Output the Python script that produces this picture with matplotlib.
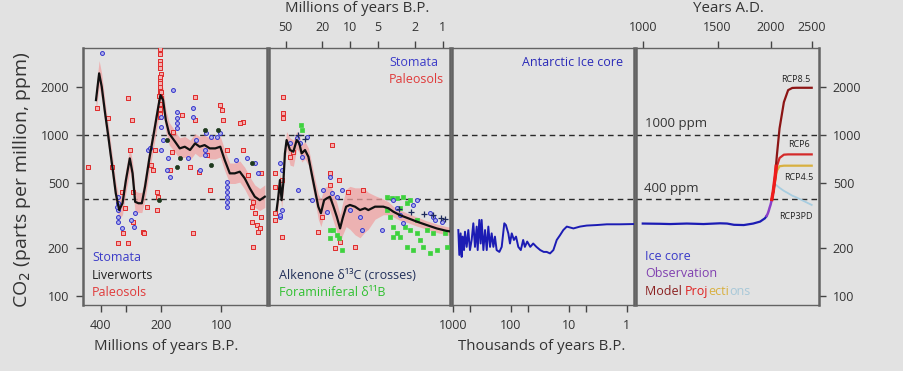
import matplotlib
matplotlib.use('Agg')
import matplotlib.pyplot as plt
from matplotlib.ticker import NullLocator
from matplotlib.offsetbox import TextArea, HPacker, AnchoredOffsetbox

plt.rcParams['font.family'] = ['Open Sans', 'DejaVu Sans']

# ---------------- DATA ----------------
# Panel 1: 490-59 Myr B.P.
p1_myr = [422, 407, 395, 380, 366, 357, 346, 336, 323, 311, 299, 286, 277, 269, 259, 249, 240, 229, 217,
          206, 201, 195, 189, 182, 170, 161, 152, 143, 135, 128, 121, 114, 107, 101, 96, 90.5, 85.5, 80.7,
          76.2, 71.9, 67.9, 64.1, 60.5]
p1_ppm = [1648, 2415, 1995, 1365, 977, 769, 578, 434, 342, 377, 525, 716, 578, 385, 377, 377, 478, 700, 1023,
          1500, 1770, 1648, 1239, 1023, 910, 826, 846, 807, 887, 846, 866, 826, 826, 846, 700, 578, 578, 592,
          538, 467, 414, 394, 414]
p1_lo = [1400, 2000, 1650, 1150, 830, 650, 490, 370, 300, 320, 440, 600, 480, 330, 330, 330, 400, 580, 850,
         1250, 1450, 1380, 1050, 870, 780, 710, 730, 700, 770, 730, 750, 710, 710, 730, 600, 500, 500, 510,
         460, 400, 355, 340, 355]
p1_hi = [1950, 2900, 2400, 1600, 1150, 900, 680, 510, 400, 450, 620, 840, 680, 450, 440, 440, 570, 830, 1200,
         1750, 2100, 1950, 1450, 1200, 1060, 960, 980, 930, 1020, 980, 1000, 960, 960, 980, 810, 670, 670, 690,
         630, 550, 490, 465, 490]

p1_paleo_myr = [419, 366, 350, 291, 280, 286, 277, 275, 303, 245, 236, 223, 214, 210, 208, 202, 202, 201, 203,
                200, 202, 201, 203, 202, 200, 202, 201, 202, 201, 180, 177, 135, 135, 143, 129, 118, 101, 99.5,
                97.7, 94, 77.6, 77.6, 73.3, 69.2, 67.9, 70.5, 66.5, 65.3, 62.9, 62.9, 64.1, 138, 314, 308, 328,
                292, 69.5, 462, 219, 207, 243, 174, 157, 114, 80.5, 70.3,
                203, 201, 202, 200, 203, 201, 202, 204, 199]
p1_paleo_ppm = [1465, 1268, 635, 1690, 1240, 807, 445, 290, 351, 251, 359, 651, 807, 445, 342, 1300, 1400, 1500,
                1600, 1700, 1800, 1900, 2000, 2200, 2400, 2600, 2900, 3200, 3400, 607, 788, 1730, 1240, 635, 591,
                751, 1535, 1430, 1240, 807, 1210, 807, 564, 385, 326, 290, 276, 251, 311, 578, 263, 245, 445,
                245, 213, 213, 201, 633, 606, 412, 246, 1044, 1330, 455, 1187, 357,
                1350, 1450, 1550, 1650, 2100, 2300, 2750, 1750, 1850]
p1_stoma_myr = [396, 327, 327, 327, 327, 327, 333, 314, 270, 231, 227, 199, 199, 195, 199, 186, 173, 167, 167,
                167, 167, 184, 180, 146, 138, 138, 133, 128, 121, 121, 119, 112, 105, 101, 94, 94, 94, 94, 94,
                94, 83.8, 74.6, 67.9, 65.3, 282, 273]
p1_stoma_ppm = [3213, 414, 377, 342, 311, 290, 359, 263, 326, 807, 826, 1300, 1128, 931, 807, 607, 1900, 1396,
                1268, 1180, 1099, 716, 551, 716, 1465, 1300, 931, 607, 807, 751, 1023, 977, 977, 1023, 513, 478,
                445, 414, 385, 359, 700, 716, 667, 578, 296, 268]
p1_liver_myr = [186, 161, 167, 121, 112, 104, 204, 70.5]
p1_liver_ppm = [931, 716, 635, 1074, 651, 1074, 394, 667]

# Panel 2: 76-0.83 Myr B.P.
p2_myr = [62.7, 60.1, 57.7, 55.4, 53.1, 51.0, 48.9, 44.9, 41.3, 38.0, 35.6, 33.6, 30.9, 28.4, 26.2, 24.1, 22.2,
          20.8, 19.2, 18.0, 16.6, 15.2, 14.0, 12.9, 12.1, 11.1, 10.1, 8.89, 7.85, 6.93, 6.38, 5.40, 4.39, 3.87,
          3.42, 2.90, 2.36, 1.91, 1.49, 1.16, 0.91, 0.83]
p2_ppm = [342, 414, 525, 394, 501, 769, 931, 807, 788, 931, 887, 769, 807, 733, 578, 455, 359, 327, 394, 404,
          414, 359, 311, 263, 304, 359, 368, 359, 342, 351, 342, 359, 359, 351, 334, 318, 304, 290, 276, 263,
          254, 252]
p2_lo = [300, 370, 470, 350, 440, 680, 820, 650, 640, 820, 780, 680, 710, 650, 500, 390, 300, 270, 320, 330,
         340, 290, 250, 215, 240, 270, 260, 240, 230, 250, 260, 300, 320, 320, 310, 295, 285, 272, 260, 248,
         240, 238]
p2_hi = [390, 470, 590, 450, 570, 870, 1050, 960, 930, 1050, 1000, 870, 910, 830, 670, 530, 430, 400, 470, 480,
         490, 440, 380, 320, 380, 460, 480, 470, 470, 460, 440, 420, 400, 385, 360, 342, 325, 310, 293, 280,
         270, 268]
p2_paleo_myr = [53, 53, 53, 65.3, 65.3, 65.3, 65.3, 55.2, 55.2, 44.9, 41.3, 15.9, 16.6, 16.6, 13.1, 10.5, 12.9,
                14.6, 8.9, 7.2, 20.4, 22.2]
p2_paleo_ppm = [1730, 1364, 1268, 578, 478, 326, 297, 234, 525, 733, 788, 866, 578, 489, 525, 445, 217, 198,
                202, 455, 311, 251]
p2_stoma_myr = [57.7, 55.2, 55.2, 57.7, 44.9, 38.0, 35.0, 33.6, 29.6, 36.5, 26.2, 19.6, 16.6, 15.9, 18.0, 14.0,
                12.4, 10.1, 7.85, 7.5, 4.57, 3.42, 3.15, 2.90, 2.08, 1.91, 1.37, 1.26, 1.21, 1.03, 2.67, 57.7]
p2_stoma_ppm = [667, 607, 342, 311, 887, 953, 887, 733, 977, 455, 394, 455, 551, 434, 334, 414, 455, 342, 311,
                257, 257, 394, 351, 318, 368, 394, 326, 311, 297, 290, 283, 319]
p2_foram_myr = [34.4, 33.6, 16.6, 15.2, 13.8, 13.1, 12.4, 16.6, 4.04, 3.56, 3.15, 2.67, 2.45, 2.26, 3.72, 3.42,
                3.15, 2.90, 3.42, 2.56, 2.26, 1.91, 1.76, 1.49, 1.26, 2.45, 2.08, 1.62, 1.37, 1.16, 0.906, 0.944,
                1.91, 4.04, 2.90]
p2_foram_ppm = [1153, 1074, 257, 257, 239, 228, 193, 228, 414, 404, 404, 414, 376, 394, 311, 270, 245, 234, 234,
                270, 257, 245, 223, 257, 245, 202, 193, 202, 184, 193, 202, 245, 297, 342, 351]
p2_alk_myr = [1.26, 1.05, 0.95, 1.6, 2.2, 3.0, 36.5, 31.0]
p2_alk_ppm = [320, 305, 300, 325, 335, 345, 1000, 950]

# Panel 3: Antarctic ice core, thousands of years B.P.
ice_kyr = [800, 769, 730, 700, 673, 638, 614, 574, 538, 504, 471, 441, 413, 386, 371, 348, 330, 317, 296, 277,
           259, 243, 227, 213, 199, 187, 175, 157, 143, 129, 121, 110, 103, 96, 88, 81, 74, 67, 61, 57, 52, 46,
           41, 36, 31, 27, 24, 21, 18.4, 16.1, 14.1, 12.4, 10.8, 8.3, 6.4, 4.9, 3.3, 2.2, 1.3, 0.77]
ice_ppm = [257, 180, 245, 175, 234, 193, 251, 202, 257, 193, 223, 283, 202, 270, 193, 297, 212, 297, 193, 257,
           193, 270, 202, 245, 202, 234, 193, 188, 202, 283, 276, 245, 212, 245, 223, 234, 202, 193, 223, 202,
           218, 202, 212, 202, 193, 188, 188, 184, 193, 223, 239, 257, 270, 263, 270, 274, 276, 279, 279, 280]

# Panel 4: Years A.D.
ad_ice_year = [1000, 1100, 1160, 1270, 1390, 1520, 1580, 1640, 1730, 1820, 1890, 1940, 1958]
ad_ice_ppm = [282, 281, 280, 282, 280, 283, 282, 277, 276, 282, 290, 304, 315]
obs_year = [1958, 1970, 1980, 1990, 2000, 2010, 2014]
obs_ppm = [315, 325, 338, 354, 369, 389, 398]
rcp_year = [2014, 2030, 2050, 2070, 2100, 2150, 2200, 2250, 2300, 2500]
rcp85 = [398, 450, 560, 750, 1100, 1600, 1900, 1960, 1965, 1965]
rcp6 = [398, 445, 530, 640, 720, 755, 758, 758, 758, 758]
rcp45 = [398, 445, 520, 600, 640, 645, 645, 645, 645, 645]
rcp3pd = [398, 440, 495, 485, 470, 450, 435, 420, 410, 368]
proj_year = [2014, 2030, 2050, 2062]
proj_ppm = [398, 450, 550, 640]

y_ticks = [100, 200, 500, 1000, 2000]
y_labels = ['100', '200', '500', '1000', '2000']

# ---------------- FIGURE ----------------
W, H = 904, 371
fig = plt.figure(figsize=(W / 100, H / 100), dpi=100)
BG = '#e2e2e2'
fig.patch.set_facecolor(BG)
TXT = '#333333'
FRAME = '#636363'


def box(x0, x1, y0=48, y1=305):
    return [x0 / W, 1 - y1 / H, (x1 - x0) / W, (y1 - y0) / H]


def style(ax, xlim):
    ax.set_facecolor(BG)
    ax.set_xscale('log')
    ax.set_yscale('log')
    ax.set_xlim(*xlim)
    ax.set_ylim(88, 3470)
    for k, s in ax.spines.items():
        s.set_color(FRAME)
        s.set_linewidth(1.0 if k in ('top', 'bottom') else 1.8)
    ax.xaxis.set_minor_locator(NullLocator())
    ax.yaxis.set_minor_locator(NullLocator())
    ax.tick_params(which='both', bottom=False, top=False, left=False, right=False,
                   labelbottom=False, labeltop=False, labelleft=False, labelright=False)
    for v in (1000, 400):
        ax.axhline(v, color='#2a2a2a', lw=1.0, ls=(0, (4, 3)), zorder=1)


tick_kw = dict(length=5, width=1, color='#444444', labelsize=9, labelcolor=TXT, pad=5)

# Panel 1
ax1 = fig.add_axes(box(83, 267))
style(ax1, (490, 59))
ax1.fill_between(p1_myr, p1_lo, p1_hi, color='#f0a2a2', alpha=0.75, lw=0, zorder=2)
ax1.scatter(p1_paleo_myr, p1_paleo_ppm, marker='s', s=8, facecolor='#f3b0b0', edgecolor='#e02a2a', lw=0.7, zorder=3)
ax1.scatter(p1_stoma_myr, p1_stoma_ppm, marker='o', s=8, facecolor='#b0b0ea', edgecolor='#3434cc', lw=0.7, zorder=3)
ax1.scatter(p1_liver_myr, p1_liver_ppm, marker='o', s=9, facecolor='#1e3a1e', edgecolor='#1e3a1e', lw=0.5, zorder=3)
ax1.plot(p1_myr, p1_ppm, color='#111111', lw=1.6, zorder=4)
ax1.set_xticks([400, 300, 200, 100], ['400', '', '200', '100'])
ax1.set_yticks(y_ticks, y_labels)
ax1.tick_params(axis='x', bottom=True, labelbottom=True, **tick_kw)
ax1.tick_params(axis='y', left=True, labelleft=True, **tick_kw)
ax1.text(0.05, 0.183, 'Stomata', color='#3c3cc8', fontsize=9, transform=ax1.transAxes, va='center')
ax1.text(0.05, 0.113, 'Liverworts', color='#222222', fontsize=9, transform=ax1.transAxes, va='center')
ax1.text(0.05, 0.047, 'Paleosols', color='#e03a3a', fontsize=9, transform=ax1.transAxes, va='center')

# Panel 2
ax2 = fig.add_axes(box(269, 450))
style(ax2, (75.8, 0.834))
ax2.fill_between(p2_myr, p2_lo, p2_hi, color='#f0a2a2', alpha=0.75, lw=0, zorder=2)
ax2.scatter(p2_paleo_myr, p2_paleo_ppm, marker='s', s=8, facecolor='#f3b0b0', edgecolor='#e02a2a', lw=0.7, zorder=3)
ax2.scatter(p2_foram_myr, p2_foram_ppm, marker='s', s=10, facecolor='#3ed23e', edgecolor='#3ed23e', lw=0.5, zorder=3)
ax2.scatter(p2_stoma_myr, p2_stoma_ppm, marker='o', s=8, facecolor='#b0b0ea', edgecolor='#3434cc', lw=0.7, zorder=3)
ax2.scatter(p2_alk_myr, p2_alk_ppm, marker='+', s=14, color='#1e2a5a', lw=0.9, zorder=3)
ax2.plot(p2_myr, p2_ppm, color='#111111', lw=1.6, zorder=4)
ax2.set_xticks([50, 20, 10, 5, 2, 1], ['50', '20', '10', '5', '2', '1'])
ax2.tick_params(axis='x', top=True, labeltop=True, **tick_kw)
ax2.text(0.663, 0.945, 'Stomata', color='#3c3cc8', fontsize=9, transform=ax2.transAxes, va='center')
ax2.text(0.663, 0.879, 'Paleosols', color='#e03a3a', fontsize=9, transform=ax2.transAxes, va='center')
ax2.text(0.055, 0.113, 'Alkenone δ¹³C (crosses)', color='#22305a', fontsize=9, transform=ax2.transAxes, va='center')
ax2.text(0.055, 0.047, 'Foraminiferal δ¹¹B', color='#30c030', fontsize=9, transform=ax2.transAxes, va='center')

# Panel 3
ax3 = fig.add_axes(box(452, 634))
style(ax3, (1028, 0.75))
ax3.plot(ice_kyr, ice_ppm, color='#1c1cb4', lw=1.4, zorder=3)
ax3.set_xticks([1000, 500, 100, 50, 10, 5, 1], ['1000', '', '100', '', '10', '', '1'])
ax3.tick_params(axis='x', bottom=True, labelbottom=True, **tick_kw)
ax3.text(0.938, 0.942, 'Antarctic Ice core', color='#2a2ab8', fontsize=9, transform=ax3.transAxes,
         va='center', ha='right')

# Panel 4
ax4 = fig.add_axes(box(636, 819))
style(ax4, (964, 2601))
ax4.plot(ad_ice_year, ad_ice_ppm, color='#1c1cb4', lw=1.6, zorder=3)
ax4.plot(obs_year, obs_ppm, color='#8a3fc8', lw=1.8, zorder=3)
ax4.plot(rcp_year, rcp3pd, color='#a8cde0', lw=1.3, zorder=3)
ax4.plot(rcp_year, rcp45, color='#d8b040', lw=1.6, zorder=3)
ax4.plot(rcp_year, rcp6, color='#d42a2a', lw=1.6, zorder=3)
ax4.plot(rcp_year, rcp85, color='#8c1515', lw=1.6, zorder=3)
ax4.plot(proj_year, proj_ppm, color='#ee1c1c', lw=2.4, zorder=4)
ax4.set_xticks([1000, 1500, 2000, 2500], ['1000', '1500', '2000', '2500'])
ax4.tick_params(axis='x', top=True, labeltop=True, **tick_kw)
ax4.yaxis.tick_right()
ax4.set_yticks(y_ticks, y_labels)
ax4.tick_params(axis='y', right=True, labelright=True, left=False, labelleft=False, **tick_kw)
ax4.text(0.049, 0.708, '1000 ppm', color=TXT, fontsize=9.5, transform=ax4.transAxes, va='center')
ax4.text(0.044, 0.455, '400 ppm', color=TXT, fontsize=9.5, transform=ax4.transAxes, va='center')
for lab, xf, yf in [('RCP8.5', 0.872, 0.879), ('RCP6', 0.888, 0.626), ('RCP4.5', 0.891, 0.498),
                    ('RCP3PD', 0.874, 0.346)]:
    ax4.text(xf, yf, lab, color='#222222', fontsize=6.5, transform=ax4.transAxes, va='center', ha='center')
ax4.text(0.049, 0.187, 'Ice core', color='#3a3ac8', fontsize=9, transform=ax4.transAxes, va='center')
ax4.text(0.049, 0.121, 'Observation', color='#8040b0', fontsize=9, transform=ax4.transAxes, va='center')
parts = [('Model ', '#8b2020'), ('Proj', '#e02020'), ('ecti', '#d8b040'), ('ons', '#a8c8d8')]
pack = HPacker(children=[TextArea(t, textprops=dict(color=c, fontsize=9)) for t, c in parts],
               align='baseline', pad=0, sep=0)
ab = AnchoredOffsetbox(loc='center left', child=pack, bbox_to_anchor=(0.049, 0.054),
                       bbox_transform=ax4.transAxes, frameon=False, pad=0, borderpad=0)
ax4.add_artist(ab)

# axis titles
fig.text(22 / W, 1 - 180 / H, 'CO$_2$ (parts per million, ppm)', rotation=90, fontsize=14, color=TXT,
         ha='center', va='center')
fig.text(166 / W, 1 - 347 / H, 'Millions of years B.P.', fontsize=10.8, color=TXT, ha='center', va='center')
fig.text(542 / W, 1 - 347 / H, 'Thousands of years B.P.', fontsize=10.8, color=TXT, ha='center', va='center')
fig.text(357 / W, 1 - 8 / H, 'Millions of years B.P.', fontsize=10.8, color=TXT, ha='center', va='center')
fig.text(728 / W, 1 - 8 / H, 'Years A.D.', fontsize=10.8, color=TXT, ha='center', va='center')

fig.savefig('out.png', dpi=100, facecolor=BG)
